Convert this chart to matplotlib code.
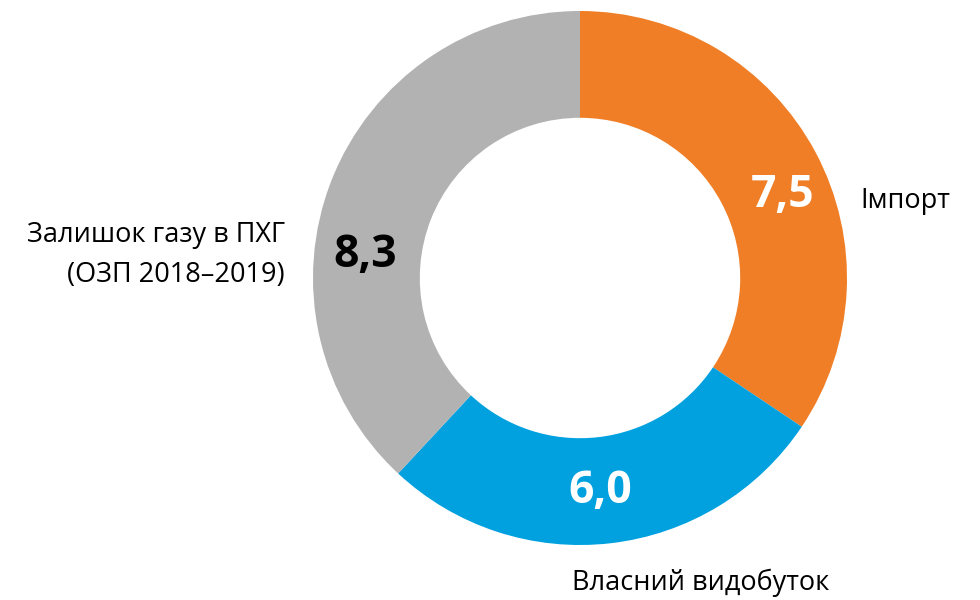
import matplotlib
matplotlib.use("Agg")
from matplotlib import pyplot as plt
import numpy as np

plt.rcParams['font.family'] = ['Open Sans', 'DejaVu Sans']

categories = ["Імпорт", "Власний видобуток", "Залишок газу в ПХГ\n(ОЗП 2018–2019)"]
values = [7.5, 6.0, 8.3]
value_labels = ["7,5", "6,0", "8,3"]
colors = ["#F07E26", "#00A1DE", "#B2B2B2"]
value_colors = ["white", "white", "black"]

fig = plt.figure(figsize=(9.8, 6), dpi=100)
# center at (580, 278) px, outer radius 267 px
ax = fig.add_axes([313/980, 55/600, 534/980, 534/600])

wedges, _ = ax.pie(values, colors=colors, startangle=90, counterclock=False,
                   radius=1, wedgeprops=dict(width=0.4, linewidth=0))
ax.set_xlim(-1, 1)
ax.set_ylim(-1, 1)
ax.set_aspect('equal')
ax.axis('off')

# value labels inside ring
val_pos = [(0.76, 0.31), (0.075, -0.80), (-0.805, 0.086)]
for (x, y), t, c in zip(val_pos, value_labels, value_colors):
    ax.text(x, y, t, ha='center', va='center', fontsize=32, fontweight='bold', color=c)

# category labels outside ring
cat_pos = [(1.05, 0.29, 'left'), (0.45, -1.14, 'center'), (-1.105, 0.086, 'right')]
for (x, y, ha), t in zip(cat_pos, categories):
    ax.text(x, y, t, ha=ha, va='center', fontsize=19.5, color='black',
            multialignment='right', linespacing=1.55, clip_on=False)

fig.savefig("out.png", dpi=100)
